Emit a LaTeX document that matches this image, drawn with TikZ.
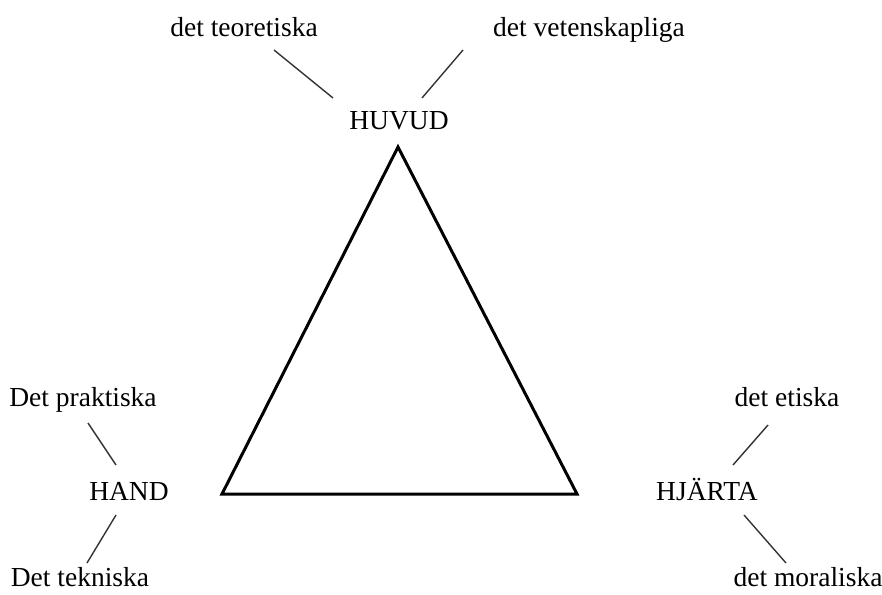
\documentclass[tikz,border=0pt]{standalone}
\usepackage{fontspec}
\setmainfont{Liberation Serif}
\tikzset{
  word/.style={font=\fontsize{27.5}{32}\selectfont, inner sep=0pt, anchor=base},
  tie/.style={line width=1.4pt, black!80},
}
\begin{document}
\begin{tikzpicture}[x=1pt,y=-1pt]
        \useasboundingbox (0,0) rectangle (882,594);

        % the three corners
        \coordinate (top)   at (398,147);
        \coordinate (left)  at (222,494);
        \coordinate (right) at (577,494);
        \draw[line width=3pt, line join=miter] (top) -- (left) -- (right) -- cycle;

        \node[word] (huvud)  at (399,129) {HUVUD};
        \node[word] (hand)   at (129,500) {HAND};
        \node[word] (hjarta) at (707,500) {HJÄRTA};

        \node[word] (teo)   at (244,37)  {det teoretiska};
        \node[word] (vet)   at (589,37)  {det vetenskapliga};
        \node[word] (prak)  at (83,406)  {Det praktiska};
        \node[word] (tek)   at (80,586)  {Det tekniska};
        \node[word] (eti)   at (787,406) {det etiska};
        \node[word] (mor)   at (808,586) {det moraliska};

        % short ties between words
        \coordinate (teo-a) at (274,50);  \coordinate (teo-b) at (333,98);
        \coordinate (vet-a) at (463,50);  \coordinate (vet-b) at (422,98);
        \coordinate (prak-a) at (88,423); \coordinate (prak-b) at (116,465);
        \coordinate (tek-a) at (116,515); \coordinate (tek-b) at (87,563);
        \coordinate (eti-a) at (768,425); \coordinate (eti-b) at (733,465);
        \coordinate (mor-a) at (744,515); \coordinate (mor-b) at (786,563);

        \draw[tie] (teo-a) -- (teo-b);
        \draw[tie] (vet-a) -- (vet-b);
        \draw[tie] (prak-a) -- (prak-b);
        \draw[tie] (tek-a) -- (tek-b);
        \draw[tie] (eti-a) -- (eti-b);
        \draw[tie] (mor-a) -- (mor-b);
    \end{tikzpicture}
\end{document}
